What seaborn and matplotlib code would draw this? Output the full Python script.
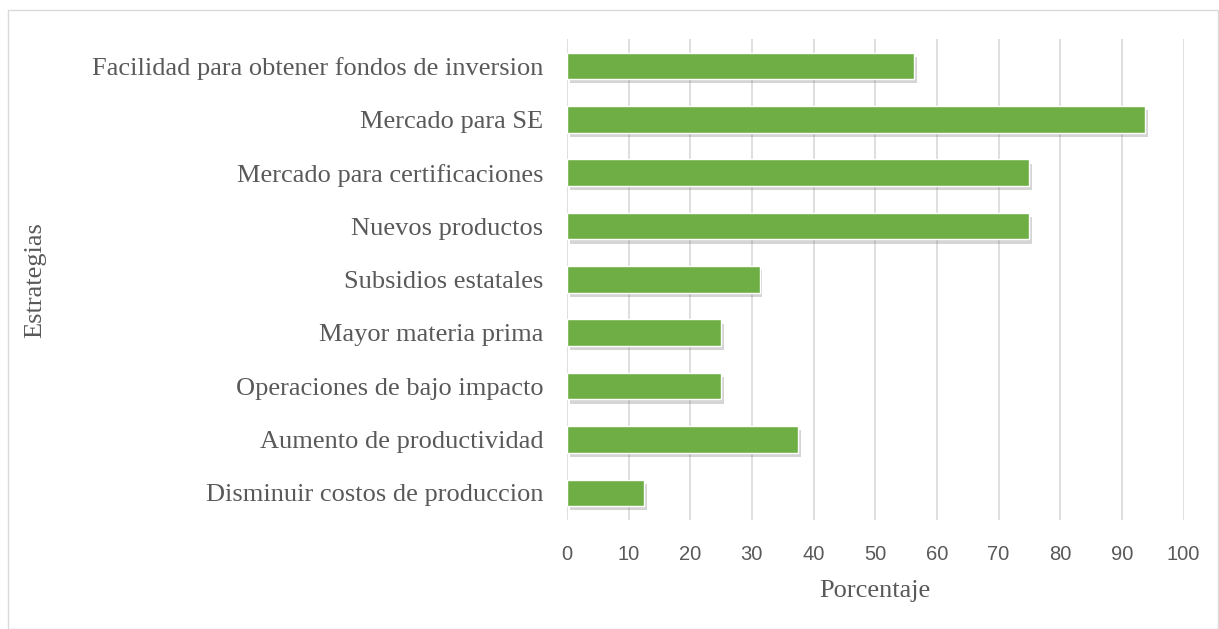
import matplotlib
matplotlib.use("Agg")
import matplotlib.pyplot as plt
import matplotlib.patheffects as pe
import seaborn as sns
import pandas as pd

estrategias = [
    "Facilidad para obtener fondos de inversion",
    "Mercado para SE",
    "Mercado para certificaciones",
    "Nuevos productos",
    "Subsidios estatales",
    "Mayor materia prima",
    "Operaciones de bajo impacto",
    "Aumento de productividad",
    "Disminuir costos de produccion",
]
porcentaje = [56.25, 93.75, 75, 75, 31.25, 25, 25, 37.5, 12.5]
xticks = [0, 10, 20, 30, 40, 50, 60, 70, 80, 90, 100]

df = pd.DataFrame({"Estrategias": estrategias, "Porcentaje": porcentaje})

sns.set_style("white")
fig = plt.figure(figsize=(12.19, 6.29), dpi=100)
ax = fig.add_axes([0.465, 0.174, 0.506, 0.7635])

sns.barplot(data=df, x="Porcentaje", y="Estrategias", order=estrategias,
            color="#6eae44", saturation=1, width=0.5, ax=ax)
for p in ax.patches:
    p.set_path_effects([pe.SimplePatchShadow(offset=(2, -3), shadow_rgbFace="#777777", alpha=0.3),
                        pe.Normal()])

ax.set_xlim(0, 100)
ax.set_ylim(8.5, -0.5)
ax.set_xticks(xticks)
ax.xaxis.grid(True, color="#d9d9d9", linewidth=1.2)
ax.set_axisbelow(True)
sns.despine(ax=ax, left=True, bottom=True)
ax.tick_params(axis="both", length=0)
ax.tick_params(axis="x", pad=18)
ax.tick_params(axis="y", pad=17)

for t in ax.get_xticklabels():
    t.set_fontfamily("Liberation Sans")
    t.set_fontsize(14.5)
    t.set_color("#595959")
for t in ax.get_yticklabels():
    t.set_fontfamily("Liberation Serif")
    t.set_fontsize(19)
    t.set_color("#595959")

ax.set_xlabel("Porcentaje", fontfamily="Liberation Serif", fontsize=19, color="#595959", labelpad=12)
ax.set_ylabel("")
fig.text(35 / 1219, 0.5 + 0.055, "Estrategias", rotation=90, ha="center", va="center",
         fontfamily="Liberation Serif", fontsize=19, color="#595959")

fig.patches.append(plt.Rectangle((8 / 1219, 0), 1 - 8 / 1219 - 0.001, 1 - 10 / 629,
                                 transform=fig.transFigure, fill=False,
                                 edgecolor="#d9d9d9", linewidth=1))

fig.savefig("out.png", dpi=100)
